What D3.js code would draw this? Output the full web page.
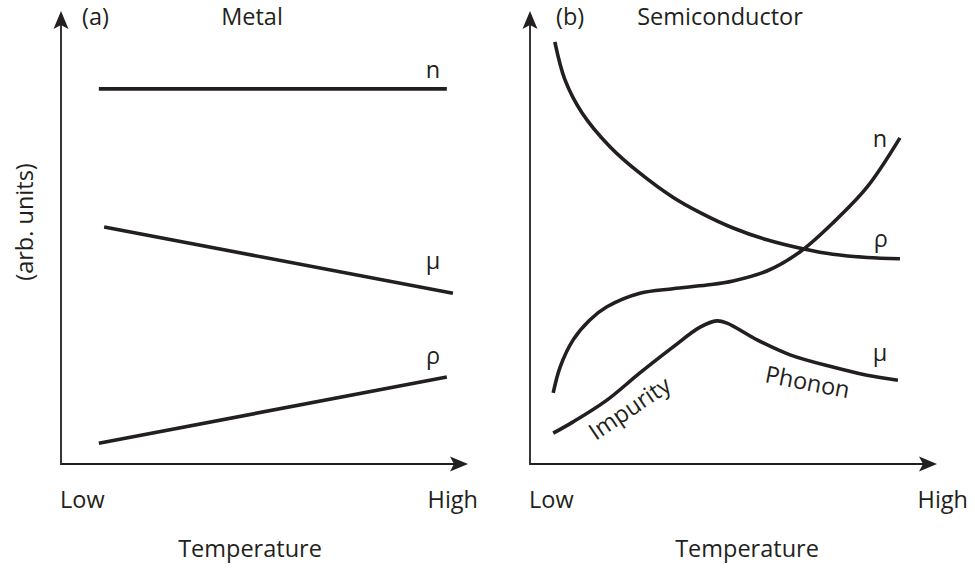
<!DOCTYPE html>
<html>
<head>
<meta charset="utf-8">
<script src="https://cdn.jsdelivr.net/npm/d3@7"></script>
<style>
  html, body { margin: 0; padding: 0; background: #fff; }
  svg { display: block; }
  text { font-family: "Open Sans", "Noto Sans", sans-serif; fill: #231f20; }
</style>
</head>
<body>
<svg id="chart" width="975" height="571"></svg>
<script>
// Temperature runs 0 (Low) .. 100 (High); quantities in arbitrary units 0 .. 100.

// (a) Metal
const metalN   = [[9.3, 82.8], [94.8, 82.8]];
const metalMu  = [[10.6, 52.3], [96.3, 37.7]];
const metalRho = [[9.3, 4.6], [94.8, 19.2]];

// (b) Semiconductor
const semiRho = [
  [6.1, 93.2], [8.6, 84.8], [12.8, 77.5], [19.7, 70.0], [27.0, 64.2],
  [35.1, 58.9], [41.8, 55.5], [49.9, 52.1], [58.2, 49.5], [67.6, 47.4],
  [74.4, 46.3], [82.8, 45.6], [90.9, 45.3]
];
const semiN = [
  [5.7, 15.7], [7.4, 21.4], [10.6, 27.4], [14.7, 31.8], [18.9, 34.7],
  [27.0, 37.7], [35.1, 38.7], [43.5, 39.5], [49.9, 40.4], [58.2, 42.6],
  [66.3, 46.8], [74.4, 53.2], [82.8, 61.1], [90.9, 72.0]
];
const semiMu = [
  [5.7, 6.8], [10.6, 9.3], [18.9, 14.1], [27.0, 20.1], [35.1, 25.8],
  [41.8, 30.2], [45.9, 31.6], [48.4, 31.1], [55.8, 27.4], [63.9, 24.1],
  [74.4, 21.4], [82.8, 19.6], [90.4, 18.5]
];

// Curve labels: [text, x, y, rotation]
const metalLabels = [["n", 91.4, 85.2, 0], ["μ", 91.4, 43.0, 0], ["ρ", 91.4, 22.1, 0]];
const semiLabels  = [
  ["n", 86.0, 70.0, 0], ["ρ", 86.2, 47.9, 0], ["μ", 86.0, 22.7, 0],
  ["Impurity", 25.6, 10.8, -34], ["Phonon", 67.8, 16.3, 11]
];

const xTicks = ["Low", "High"];
const xTitle = "Temperature";
const yTitle = "(arb. units)";

const ink = "#231f20";
const fs = 23.5;
const svg = d3.select("#chart");

function arrowHead(g, x, y, angle) {
  // notched arrow head pointing along +x before rotation
  g.append("path")
    .attr("d", "M0,0 L-18,-7.5 L-14,0 L-18,7.5 Z")
    .attr("fill", ink)
    .attr("transform", `translate(${x},${y}) rotate(${angle})`);
}

function panel(opts) {
  const x = d3.scaleLinear().domain([0, 100]).range([opts.left, opts.left + 407]);
  const y = d3.scaleLinear().domain([0, 100]).range([464, 11]);
  const g = svg.append("g");

  // axes with arrows
  g.append("line").attr("x1", x(0)).attr("y1", y(0)).attr("x2", x(100) - 12).attr("y2", y(0))
    .attr("stroke", ink).attr("stroke-width", 1.8);
  g.append("line").attr("x1", x(0)).attr("y1", y(0) + 0.9).attr("x2", x(0)).attr("y2", y(100) + 12)
    .attr("stroke", ink).attr("stroke-width", 1.8);
  arrowHead(g, x(100), y(0), 0);
  arrowHead(g, x(0), y(100), -90);

  const line = d3.line().x(d => x(d[0])).y(d => y(d[1])).curve(opts.curve);
  opts.series.forEach(s => {
    g.append("path").attr("d", line(s)).attr("fill", "none")
      .attr("stroke", ink).attr("stroke-width", 3.6).attr("stroke-linecap", "butt");
  });

  opts.labels.forEach(([t, lx, ly, rot]) => {
    g.append("text").text(t)
      .attr("text-anchor", "middle")
      .attr("font-size", fs)
      .attr("transform", `translate(${x(lx)},${y(ly)}) rotate(${rot})`);
  });

  // tick labels
  g.append("text").text(xTicks[0]).attr("x", x(0) - 1).attr("y", 508).attr("font-size", fs);
  g.append("text").text(xTicks[1]).attr("x", x(100) + opts.highShift).attr("y", 508)
    .attr("text-anchor", "end").attr("font-size", fs);
  g.append("text").text(xTitle).attr("x", opts.titleX).attr("y", 557)
    .attr("text-anchor", "middle").attr("font-size", fs);

  // panel heading
  g.append("text").text(opts.tag).attr("x", opts.tagX).attr("y", 24.5).attr("font-size", fs);
  g.append("text").text(opts.name).attr("x", opts.nameX).attr("y", 25)
    .attr("text-anchor", "middle").attr("font-size", fs);
}

panel({
  left: 61, series: [metalN, metalMu, metalRho], curve: d3.curveLinear,
  labels: metalLabels, tag: "(a)", tagX: 82, name: "Metal", nameX: 252,
  titleX: 250, highShift: 10
});
panel({
  left: 530, series: [semiRho, semiN, semiMu], curve: d3.curveCatmullRom.alpha(0.5),
  labels: semiLabels, tag: "(b)", tagX: 556, name: "Semiconductor", nameX: 720,
  titleX: 747, highShift: 31
});

svg.append("text").text(yTitle)
  .attr("text-anchor", "middle").attr("font-size", fs)
  .attr("transform", "translate(33,222) rotate(-90)");
</script>
</body>
</html>
